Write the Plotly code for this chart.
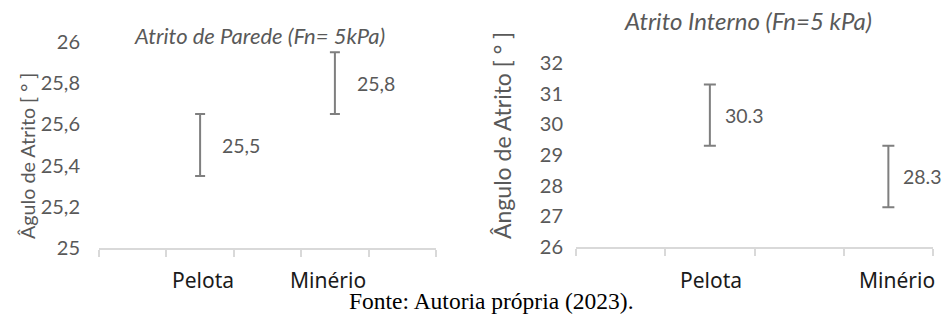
import plotly.graph_objects as go

# ---- data ----
categories = ["Pelota", "Minério"]

wall_values = [25.5, 25.8]
wall_errors = [0.15, 0.15]
wall_labels = ["25,5", "25,8"]
wall_ticks = [25, 25.2, 25.4, 25.6, 25.8, 26]
wall_ticktext = ["25", "25,2", "25,4", "25,6", "25,8", "26"]

int_values = [30.3, 28.3]
int_errors = [1.0, 1.0]
int_labels = ["30.3", "28.3"]
int_ticks = [26, 27, 28, 29, 30, 31, 32]
int_ticktext = ["26", "27", "28", "29", "30", "31", "32"]

# slot layout of the original (Excel) category axes
wall_slots = 5
int_slots = 4
wall_x = [2, 4]
int_x = [2, 4]

GRAY = "#595959"
AXIS = "#d9d9d9"
BAR = "#7f7f7f"
FONT = "Lato"

W, H = 943, 320

def px_x(p):
    return p / W

def px_y(p):
    return 1 - p / H

fig = go.Figure()

fig.add_trace(go.Scatter(
    x=wall_x, y=wall_values, mode="markers",
    marker=dict(size=1, opacity=0),
    error_y=dict(type="data", array=wall_errors, color=BAR, thickness=2, width=5),
    xaxis="x", yaxis="y", showlegend=False, hoverinfo="skip"))

fig.add_trace(go.Scatter(
    x=int_x, y=int_values, mode="markers",
    marker=dict(size=1, opacity=0),
    error_y=dict(type="data", array=int_errors, color=BAR, thickness=2, width=6),
    xaxis="x2", yaxis="y2", showlegend=False, hoverinfo="skip"))

annotations = []
# value labels
for xv, yv, t in zip(wall_x, wall_values, wall_labels):
    annotations.append(dict(x=xv, y=yv, xref="x", yref="y", text=t, showarrow=False,
                            xanchor="left", yanchor="middle", xshift=20,
                            font=dict(family=FONT, size=19.5, color=GRAY)))
for xv, yv, t in zip(int_x, int_values, int_labels):
    annotations.append(dict(x=xv, y=yv, xref="x2", yref="y2", text=t, showarrow=False,
                            xanchor="left", yanchor="middle", xshift=13,
                            font=dict(family=FONT, size=19.5, color=GRAY)))
# category labels
for xv, c, sh in zip(wall_x, categories, [3, -7]):
    annotations.append(dict(x=xv, y=px_y(280), xref="x", yref="paper", text=c, showarrow=False,
                            xanchor="center", yanchor="middle", xshift=sh,
                            font=dict(family="Noto Sans", size=21, color="#1a1a1a")))
for xv, c, sh in zip(int_x, categories, [1, 9]):
    annotations.append(dict(x=xv, y=px_y(280), xref="x2", yref="paper", text=c, showarrow=False,
                            xanchor="center", yanchor="middle", xshift=sh,
                            font=dict(family="Noto Sans", size=21, color="#1a1a1a")))
# titles
annotations.append(dict(x=px_x(259), y=px_y(35), xref="paper", yref="paper",
                        text="<i>Atrito de Parede (Fn= 5kPa)</i>", showarrow=False,
                        xanchor="center", yanchor="middle",
                        font=dict(family=FONT, size=22, color=GRAY)))
annotations.append(dict(x=px_x(748), y=px_y(20), xref="paper", yref="paper",
                        text="<i>Atrito Interno (Fn=5 kPa)</i>", showarrow=False,
                        xanchor="center", yanchor="middle",
                        font=dict(family=FONT, size=24, color=GRAY)))
# y-axis titles
annotations.append(dict(x=px_x(27), y=px_y(156), xref="paper", yref="paper",
                        text="Âgulo de Atrito [ ° ]", showarrow=False, textangle=-90,
                        xanchor="center", yanchor="middle",
                        font=dict(family=FONT, size=19.7, color=GRAY)))
annotations.append(dict(x=px_x(502), y=px_y(136), xref="paper", yref="paper",
                        text="Ângulo de Atrito [ ° ]", showarrow=False, textangle=-90,
                        xanchor="center", yanchor="middle",
                        font=dict(family=FONT, size=23, color=GRAY)))
# caption
annotations.append(dict(x=px_x(491), y=px_y(301), xref="paper", yref="paper",
                        text="Fonte: Autoria própria (2023).", showarrow=False,
                        xanchor="center", yanchor="middle",
                        font=dict(family="Liberation Serif", size=23.5, color="#000000")))

xaxis_common = dict(showgrid=False, zeroline=False, showline=True, linecolor=AXIS, linewidth=2,
                    ticks="outside", ticklen=7, tickcolor=AXIS, tickwidth=2,
                    fixedrange=True, automargin=False)
yaxis_common = dict(showgrid=False, zeroline=False, showline=False, ticks="",
                    tickfont=dict(family=FONT, size=20, color=GRAY), fixedrange=True,
                    automargin=False)

wall_bounds = [i + 0.5 for i in range(wall_slots + 1)]
int_bounds = [i + 0.5 for i in range(int_slots + 1)]

fig.update_layout(
    width=W, height=H, autosize=False,
    margin=dict(l=0, r=0, t=0, b=0, pad=0),
    paper_bgcolor="white", plot_bgcolor="white",
    xaxis=dict(domain=[px_x(99), px_x(436)], range=[0.5, wall_slots + 0.5],
               tickvals=wall_bounds, ticktext=[""] * len(wall_bounds), anchor="y", **xaxis_common),
    yaxis=dict(domain=[px_y(248), px_y(42)], range=[25, 26], tickvals=wall_ticks,
               ticktext=wall_ticktext, ticklabelstandoff=18, anchor="x", **yaxis_common),
    xaxis2=dict(domain=[px_x(576), px_x(933)], range=[0.5, int_slots + 0.5],
                tickvals=int_bounds, ticktext=[""] * len(int_bounds), anchor="y2", **xaxis_common),
    yaxis2=dict(domain=[px_y(247), px_y(63)], range=[26, 32], tickvals=int_ticks,
                ticktext=int_ticktext, ticklabelstandoff=12, anchor="x2", **yaxis_common),
    annotations=annotations,
)

fig.write_html("out.html", config={"displayModeBar": False},
               post_script="document.body.style.margin='0px';document.body.style.overflow='hidden';")
